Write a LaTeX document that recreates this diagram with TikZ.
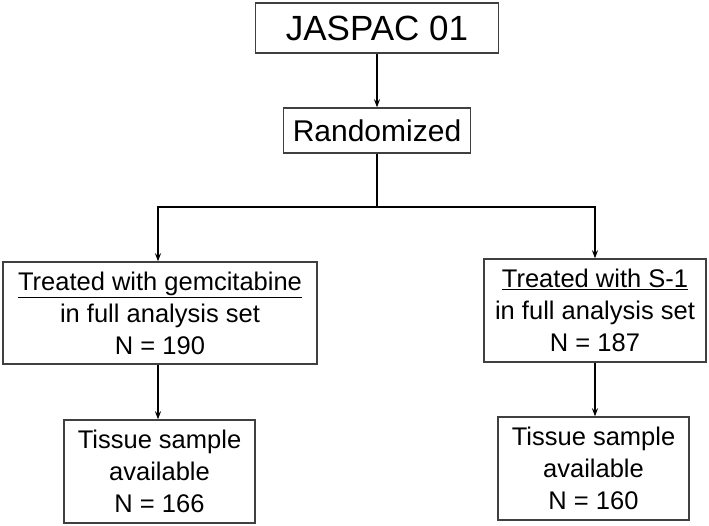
\documentclass[tikz,border=0pt]{standalone}
\usepackage{fontspec}
\setmainfont{Liberation Sans}
\usetikzlibrary{arrows.meta, calc}

\begin{document}
\begin{tikzpicture}[x=1pt, y=-1pt,
    box/.style={draw=black!75, line width=1.4pt, inner sep=0pt, align=center},
    arr/.style={line width=2pt, -{Stealth[length=8pt, width=6pt]}},
    txt/.style={font=\fontsize{25.5}{32}\selectfont}]
        \useasboundingbox (0,0) rectangle (709,526);

        \node[box, minimum width=243pt, minimum height=50pt, font=\fontsize{35}{40}\selectfont] (jaspac) at (377,28) {JASPAC 01};
        \node[box, minimum width=187pt, minimum height=45pt, font=\fontsize{30}{34}\selectfont] (rand) at (377,130.5) {Randomized};

        \node[box, txt, minimum width=314pt, minimum height=102pt] (gem) at (160,313) {\underline{Treated with gemcitabine}\\ in full analysis set\\ N = 190};
        \node[box, txt, minimum width=222pt, minimum height=103pt] (sone) at (595,310.5) {\underline{Treated with S-1}\\ in full analysis set\\ N = 187};

        \node[box, txt, minimum width=191pt, minimum height=103pt] (tisgem) at (159.5,471.5) {Tissue sample\\ available\\ N = 166};
        \node[box, txt, minimum width=191pt, minimum height=103pt] (tissone) at (593.5,468.5) {Tissue sample\\ available\\ N = 160};

        \coordinate (splitL) at (158,207);
        \coordinate (splitR) at (595,207);

        \draw[arr] (jaspac.south) -- (rand.north);
        \draw[arr] (rand.south) |- (splitL) -- (gem.north -| splitL);
        \draw[arr] (rand.south) |- (splitR) -- (sone.north -| splitR);
        \draw[arr] (gem.south -| splitL) -- (tisgem.north -| splitL);
        \draw[arr] (sone.south -| splitR) -- (tissone.north -| splitR);
    \end{tikzpicture}
\end{document}
